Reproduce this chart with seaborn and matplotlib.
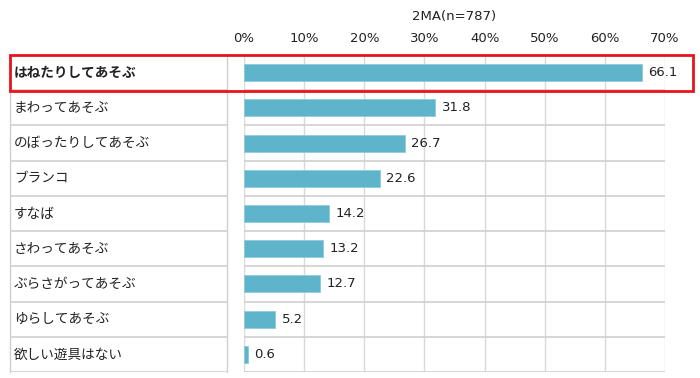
import matplotlib
matplotlib.use("Agg")
import matplotlib.pyplot as plt
import matplotlib.patches as patches
import seaborn as sns
import pandas as pd

categories = ["はねたりしてあそぶ", "まわってあそぶ", "のぼったりしてあそぶ", "ブランコ", "すなば",
              "さわってあそぶ", "ぶらさがってあそぶ", "ゆらしてあそぶ", "欲しい遊具はない"]
values = [66.1, 31.8, 26.7, 22.6, 14.2, 13.2, 12.7, 5.2, 0.6]
tick_values = [0, 10, 20, 30, 40, 50, 60, 70]
tick_labels = ["0%", "10%", "20%", "30%", "40%", "50%", "60%", "70%"]
title = "2MA(n=787)"

sns.set_theme(style="white")
plt.rcParams['font.family'] = ['DejaVu Sans', 'Noto Sans CJK JP']

W, H = 700, 378
fig = plt.figure(figsize=(W / 100, H / 100), dpi=100)

top_px, bot_px = 55, 372
plot_l, plot_r = 244, 665
tab_l, tab_r = 10, 227
n = len(categories)

def fy(px):
    return 1 - px / H

ax = fig.add_axes([plot_l / W, fy(bot_px), (plot_r - plot_l) / W, (bot_px - top_px) / H])
df = pd.DataFrame({"cat": categories, "val": values})
sns.barplot(data=df, x="val", y="cat", orient="h", color="#5DB4CB", saturation=1,
            width=0.48, edgecolor="#8FCBDB", linewidth=0.6, ax=ax, zorder=3)
ax.set_xlim(0, 70)
ax.set_ylim(n - 0.5, -0.5)
ax.set_xticks(tick_values)
ax.set_xticklabels(tick_labels, fontsize=9.5, color="#222222")
ax.xaxis.tick_top()
ax.tick_params(axis="x", length=0, pad=7)
ax.set_yticks([])
ax.set_xlabel("")
ax.set_ylabel("")
for s in ax.spines.values():
    s.set_visible(False)
for t in tick_values:
    ax.axvline(t, color="#D9D9D9", lw=1.0, zorder=1)
for i in range(n + 1):
    ax.axhline(i - 0.5, color="#CFCFCF", lw=1.2, zorder=1)
for i, v in enumerate(values):
    ax.annotate(f"{v:.1f}", xy=(v, i), xytext=(4.5, 0), textcoords="offset points",
                va="center", ha="left", fontsize=9.5, color="#222222")
ax.set_title(title, fontsize=9.5, color="#222222", pad=25)

tab = fig.add_axes([tab_l / W, fy(bot_px), (tab_r - tab_l) / W, (bot_px - top_px) / H])
tab.set_xlim(0, 1)
tab.set_ylim(n - 0.5, -0.5)
tab.set_xticks([])
tab.set_yticks([])
for k in ["top", "bottom"]:
    tab.spines[k].set_visible(False)
for k in ["left", "right"]:
    tab.spines[k].set_color("#CFCFCF")
    tab.spines[k].set_linewidth(1.0)
for i in range(n + 1):
    tab.axhline(i - 0.5, color="#CFCFCF", lw=1.2)
for i, c in enumerate(categories):
    tab.text(0.018, i, c, va="center", ha="left", fontsize=9.8, color="#222222",
             fontweight="bold" if i == 0 else "normal")

rect = patches.Rectangle((10 / W, fy(91)), (693 - 10) / W, (91 - 55) / H,
                         transform=fig.transFigure, fill=False, edgecolor="#E8141C",
                         linewidth=2, zorder=10)
fig.patches.append(rect)

fig.savefig("out.png", dpi=100)
